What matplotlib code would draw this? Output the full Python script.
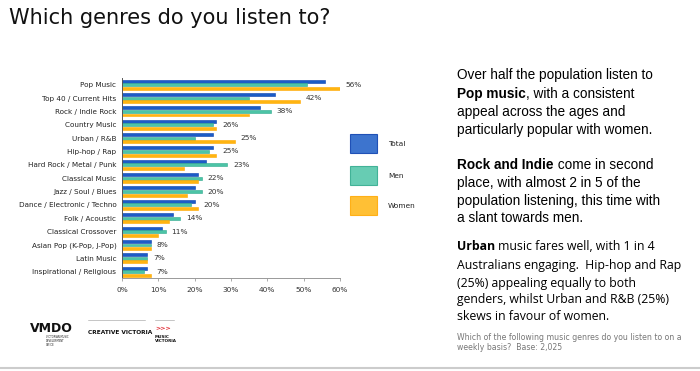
import numpy as np
import matplotlib
matplotlib.use('Agg')
import matplotlib.pyplot as plt
from matplotlib.patches import Rectangle

# Data
genres = ['Pop Music', 'Top 40 / Current Hits', 'Rock / Indie Rock', 'Country Music',
          'Urban / R&B', 'Hip-hop / Rap', 'Hard Rock / Metal / Punk', 'Classical Music',
          'Jazz / Soul / Blues', 'Dance / Electronic / Techno', 'Folk / Acoustic',
          'Classical Crossover', 'Asian Pop (K-Pop, J-Pop)', 'Latin Music',
          'Inspirational / Religious']
total = [56, 42, 38, 26, 25, 25, 23, 21, 20, 20, 14, 11, 8, 7, 7]
men = [51, 35, 41, 25, 20, 24, 29, 22, 22, 19, 16, 12, 8, 7, 6]
women = [60, 49, 35, 26, 31, 26, 17, 21, 18, 21, 13, 10, 8, 7, 8]
labels = ['56%', '42%', '38%', '26%', '25%', '25%', '23%', '22%', '20%', '20%',
          '14%', '11%', '8%', '7%', '7%']
ticks = [0, 10, 20, 30, 40, 50, 60]

c_total, e_total = '#1b5cc6', '#0a3fae'
c_men, e_men = '#4cc4a6', '#2ea98c'
c_women, e_women = '#ffb511', '#ffa800'

W, H = 700, 371
fig = plt.figure(figsize=(7, 3.71), dpi=100)
renderer = fig.canvas.get_renderer()

def fx(px):
    return px / W

def fy(py):
    return 1 - py / H

# Chart area
ax = fig.add_axes([fx(122), fy(278.4), fx(340) - fx(122), (200.4) / H])
y = np.arange(len(genres))
h = 0.22
ax.barh(y - 0.27, total, height=h, color=c_total, edgecolor=e_total, linewidth=0.4)
ax.barh(y, men, height=h, color=c_men, edgecolor=e_men, linewidth=0.4)
ax.barh(y + 0.27, women, height=h, color=c_women, edgecolor=e_women, linewidth=0.4)

for i, lab in enumerate(labels):
    m = max(total[i], men[i], women[i])
    ax.annotate(lab, (m, y[i]), xytext=(4, 0), textcoords='offset points',
                va='center', ha='left', fontsize=5.3, color='#333333')

ax.set_ylim(len(genres) - 0.5, -0.5)
ax.set_xlim(0, 60)
ax.set_yticks(y)
ax.set_yticklabels(genres, fontsize=5.2, color='#222222')
ax.set_xticks(ticks)
ax.set_xticklabels([f'{t}%' for t in ticks], fontsize=5.3, color='#333333')
ax.tick_params(axis='y', length=0, pad=4)
ax.tick_params(axis='x', length=2, width=0.5, color='#888888', pad=4)
for s in ['top', 'right']:
    ax.spines[s].set_visible(False)
ax.spines['left'].set_color('#555555')
ax.spines['left'].set_linewidth(0.7)
ax.spines['bottom'].set_color('#999999')
ax.spines['bottom'].set_linewidth(0.7)

# Legend boxes
leg = [('Total', c_total, e_total, 134), ('Men', c_men, e_men, 166), ('Women', c_women, e_women, 196)]
for name, c, e, top in leg:
    fig.patches.append(Rectangle((fx(350), fy(top + 19)), fx(27), 19 / H, transform=fig.transFigure,
                                 facecolor=c, edgecolor=e, linewidth=0.8, alpha=0.85))
    fig.text(fx(388), fy(top + 9.5), name, fontsize=5.3, va='center', color='#222222')

# Title
fig.text(fx(9), fy(18), 'Which genres do you listen to?', fontsize=15, color='#111111',
         va='center', ha='left')


def runon(x, yy, bold, rest, fs, fam):
    # bold lead-in followed by regular text on the same line
    t = fig.text(x, yy, bold, fontsize=fs, family=fam, va='center', weight='bold')
    bb = t.get_window_extent(renderer)
    fig.text(bb.x1 / W, yy, rest, fontsize=fs, family=fam, va='center')


# Commentary
tx = fx(457)
fs = 9.8
fam = 'Liberation Sans'
fig.text(tx, fy(75), 'Over half the population listen to', fontsize=fs, family=fam, va='center')
runon(tx, fy(94), 'Pop music', ', with a consistent', fs, fam)
fig.text(tx, fy(112), 'appeal across the ages and', fontsize=fs, family=fam, va='center')
fig.text(tx, fy(130), 'particularly popular with women.', fontsize=fs, family=fam, va='center')

runon(tx, fy(165), 'Rock and Indie', ' come in second', fs, fam)
fig.text(tx, fy(183), 'place, with almost 2 in 5 of the', fontsize=fs, family=fam, va='center')
fig.text(tx, fy(201), 'population listening, this time with', fontsize=fs, family=fam, va='center')
fig.text(tx, fy(218), 'a slant towards men.', fontsize=fs, family=fam, va='center')

fs3 = 8.8
fam3 = 'Open Sans'
runon(tx, fy(247), 'Urban', ' music fares well, with 1 in 4', fs3, fam3)
fig.text(tx, fy(265), 'Australians engaging.  Hip-hop and Rap', fontsize=fs3, family=fam3, va='center')
fig.text(tx, fy(283), '(25%) appealing equally to both', fontsize=fs3, family=fam3, va='center')
fig.text(tx, fy(300), 'genders, whilst Urban and R&B (25%)', fontsize=fs3, family=fam3, va='center')
fig.text(tx, fy(317), 'skews in favour of women.', fontsize=fs3, family=fam3, va='center')

fig.text(tx, fy(337), 'Which of the following music genres do you listen to on a', fontsize=5.6,
         color='#777777', va='center')
fig.text(tx, fy(348), 'weekly basis?  Base: 2,025', fontsize=5.6, color='#777777', va='center')

# Logos as text
fig.text(fx(30), fy(328), 'VMDO', fontsize=9, weight='bold', va='center', color='#111111')
fig.text(fx(46), fy(341), 'VICTORIAN MUSIC\nDEVELOPMENT\nOFFICE', fontsize=1.8, va='center',
         color='#111111', linespacing=1.0)
fig.add_artist(plt.Line2D([fx(88), fx(145)], [fy(320), fy(320)], transform=fig.transFigure,
                          color='#999999', linewidth=0.4))
fig.text(fx(88), fy(333), 'CREATIVE VICTORIA', fontsize=4.2, weight='bold', va='center', color='#111111')
fig.add_artist(plt.Line2D([fx(155), fx(174)], [fy(320), fy(320)], transform=fig.transFigure,
                          color='#999999', linewidth=0.4))
fig.text(fx(155), fy(329), '>>>', fontsize=4.5, weight='bold', va='center', color='#e0202a')
fig.text(fx(155), fy(339), 'MUSIC\nVICTORIA', fontsize=3, weight='bold', va='center', color='#111111',
         linespacing=1.0)

# bottom rule
fig.add_artist(plt.Line2D([0, 1], [fy(368), fy(368)], transform=fig.transFigure,
                          color='#cccccc', linewidth=1.5))

fig.savefig('out.png', dpi=100)
